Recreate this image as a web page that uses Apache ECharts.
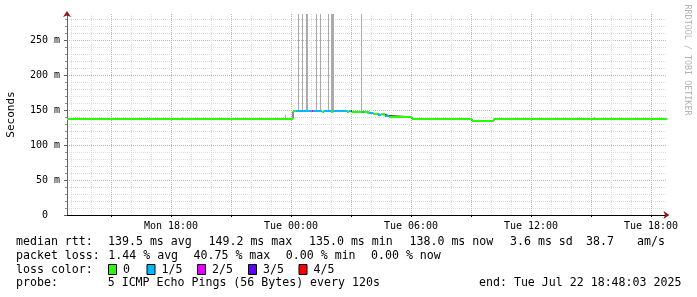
<!DOCTYPE html>
<html><head><meta charset="utf-8">
<script src="https://cdn.jsdelivr.net/npm/echarts@6/dist/echarts.min.js"></script>
<style>html,body{margin:0;padding:0;background:#fff}#c{width:697px;height:297px}</style>
</head><body><div id="c"></div>
<script>
// Time in hours since Mon Jul 21 2025 00:00; values in ms
const xStart = 12.8, xEnd = 42.8;
const yMin = 0, yMax = 288;
const xMajorTicks = [15, 18, 21, 24, 27, 30, 33, 36, 39, 42];
const xMinorTicks = [13, 14, 16, 17, 19, 20, 22, 23, 25, 26, 28, 29, 31, 32, 34, 35, 37, 38, 40, 41];
const xLabelValues = [18, 24, 30, 36, 42];
const xLabelTexts = ['Mon 18:00', 'Tue 00:00', 'Tue 06:00', 'Tue 12:00', 'Tue 18:00'];
const yMajorTicks = [0, 50, 100, 150, 200, 250];
const yLabelTexts = ['0  ', '50 m', '100 m', '150 m', '200 m', '250 m'];
const yMinorTicks = [10, 20, 30, 40, 60, 70, 80, 90, 110, 120, 130, 140, 160, 170, 180, 190, 210, 220, 230, 240, 260, 270, 280];

const lossNames = ['0', '1/5', '2/5', '3/5', '4/5'];
const lossColors = ['#26ff00', '#00b8ff', '#dd00ff', '#5e00ff', '#ff0000'];

// median rtt segments (start hour, end hour, value ms, loss index)
const medStart = [12.8, 24.10, 24.25, 25.05, 25.12, 25.55, 25.65, 26.00, 26.08, 26.80, 26.88, 27.00, 27.05, 27.55, 27.65, 27.90, 28.10, 28.35, 28.50, 28.70, 28.90, 30.05, 33.05, 34.15];
const medEnd   = [24.10, 24.25, 25.05, 25.12, 25.55, 25.65, 26.00, 26.08, 26.80, 26.88, 27.00, 27.05, 27.55, 27.65, 27.90, 28.10, 28.35, 28.50, 28.70, 28.90, 30.05, 33.05, 34.15, 42.8];
const medValue = [138.0, 148.3, 148.4, 148.9, 148.3, 148.0, 148.5, 148.1, 148.6, 147.9, 148.3, 148.8, 147.9, 147.4, 147.2, 145.9, 145.0, 143.6, 144.2, 142.4, 140.7, 137.8, 134.9, 138.0];
const medLoss  = [0, 0, 1, 2, 1, 0, 1, 0, 1, 0, 1, 3, 0, 1, 0, 1, 0, 1, 0, 1, 0, 0, 0, 0];

// smoke (ping spread) ranges
const smokeStart = [13.40, 16.90, 18.55, 23.70, 24.35, 24.55, 24.75, 25.25, 25.45, 25.85, 26.00, 27.50, 27.80, 28.35, 28.60, 38.30, 39.15, 40.00];
const smokeEnd   = [13.45, 16.95, 18.60, 23.75, 24.40, 24.60, 24.85, 25.30, 25.50, 25.90, 26.15, 27.55, 28.00, 28.50, 28.85, 38.35, 39.20, 40.05];
const smokeLow   = [138, 138, 138, 138, 148, 148, 148, 148, 148, 148, 148, 147, 144.5, 142.5, 141.5, 138, 138, 138];
const smokeHigh  = [140, 140, 140, 143.5, 320, 320, 320, 320, 320, 320, 320, 320, 147, 145, 143, 140, 140, 140];

// legend texts
const rttLabel = 'median rtt:';
const rttStats = ['139.5 ms avg', '149.2 ms max', '135.0 ms min', '138.0 ms now', '3.6 ms sd', '38.7', 'am/s'];
const lossLabel = 'packet loss:';
const lossStats = ['1.44 % avg', '40.75 % max', '0.00 % min', '0.00 % now'];
const lossColorLabel = 'loss color:';
const probeLabel = 'probe:';
const probeText = '5 ICMP Echo Pings (56 Bytes) every 120s';
const endText = 'end: Tue Jul 22 18:48:03 2025';

const MONO = '"DejaVu Sans Mono", monospace';
const LFONT = '11.6px ' + MONO;

const medData = medStart.map((t, i) => [t, medEnd[i], medValue[i], medLoss[i]]);
const smokeData = smokeStart.map((t, i) => [t, smokeEnd[i], smokeLow[i], smokeHigh[i]]);
const stepData = medStart.map((t, i) => [t, medValue[i]]).concat([[xEnd, medValue[medValue.length - 1]]]);

const rttX = [108, 208.5, 309, 409.5, 510, 586, 637];
const lossX = [108.3, 193.5, 285.8, 371];
const boxX = [108.5, 147, 197.5, 248.5, 299];

const graphic = [];
function txt(x, y, s, extra) {
  graphic.push(Object.assign({ type: 'text', x: x, y: y, silent: true,
    style: { text: s, font: LFONT, fill: '#000', align: 'left', verticalAlign: 'middle', textAlign: 'left', textVerticalAlign: 'middle' } }, extra || {}));
}
txt(16, 241.5, rttLabel);
rttStats.forEach((s, i) => txt(rttX[i], 241.5, s));
txt(16, 255.5, lossLabel);
lossStats.forEach((s, i) => txt(lossX[i], 255.5, s));
txt(16, 269.5, lossColorLabel);
lossNames.forEach((n, i) => {
  graphic.push({ type: 'rect', silent: true, shape: { x: boxX[i], y: 264.5, width: 8, height: 10 },
    style: { fill: lossColors[i], stroke: '#000', lineWidth: 1 } });
  txt(boxX[i] + 14.5, 269.5, n);
});
txt(16, 283, probeLabel);
txt(107.7, 283, probeText);
txt(479, 283, endText);
graphic.push({ type: 'text', x: 11, y: 114.5, rotation: Math.PI / 2, silent: true,
  style: { text: 'Seconds', font: '11px ' + MONO, fill: '#000', align: 'center', verticalAlign: 'middle', textAlign: 'center', textVerticalAlign: 'middle' } });
graphic.push({ type: 'text', x: 687, y: 60, rotation: -Math.PI / 2, silent: true,
  style: { text: 'RRDTOOL / TOBI OETIKER', font: '8.4px ' + MONO, fill: '#b4b4b4', align: 'center', verticalAlign: 'middle', textAlign: 'center', textVerticalAlign: 'middle' } });

const chart = echarts.init(document.getElementById('c'), null, { renderer: 'canvas' });
chart.setOption({
  animation: false,
  backgroundColor: '#fff',
  grid: { left: 67, right: 30, top: 14, bottom: 82, containLabel: false },
  xAxis: [
    { type: 'value', min: xStart, max: xEnd, position: 'bottom',
      axisLine: { show: true, onZero: false, lineStyle: { color: '#000', width: 1 } },
      axisTick: { show: true, customValues: xMajorTicks, length: 2, lineStyle: { color: '#000' } },
      axisLabel: { show: true, customValues: xLabelValues, formatter: v => { const k = xLabelValues.indexOf(v); return k >= 0 ? xLabelTexts[k] : ''; },
        color: '#000', fontFamily: MONO, fontSize: 10, margin: 6 },
      splitLine: { show: true, lineStyle: { color: '#e8a0a0', type: [1, 1], width: 1 } } },
    { type: 'value', min: xStart, max: xEnd, position: 'bottom',
      axisLine: { show: true, onZero: false, symbol: ['none', 'arrow'], symbolSize: [6, 6], symbolOffset: [0, 2.5], lineStyle: { color: '#8b1a1a', width: 0 } },
      axisTick: { show: false, customValues: xMinorTicks },
      axisLabel: { show: false },
      splitLine: { show: true, lineStyle: { color: '#dcdcdc', type: [1, 1], width: 1 } } }
  ],
  yAxis: [
    { type: 'value', min: yMin, max: yMax, position: 'left',
      axisLine: { show: true, onZero: false, lineStyle: { color: '#606060', width: 1 } },
      axisTick: { show: true, customValues: yMajorTicks, length: 3, lineStyle: { color: '#606060' } },
      axisLabel: { show: true, customValues: yMajorTicks, formatter: v => { const k = yMajorTicks.indexOf(v); return k >= 0 ? yLabelTexts[k] : ''; },
        color: '#000', fontFamily: MONO, fontSize: 10, margin: 7 },
      splitLine: { show: true, lineStyle: { color: '#e8a0a0', type: [1, 1], width: 1 } } },
    { type: 'value', min: yMin, max: yMax, position: 'left',
      axisLine: { show: true, onZero: false, symbol: ['none', 'arrow'], symbolSize: [6, 6], symbolOffset: [0, 3], lineStyle: { color: '#8b1a1a', width: 0 } },
      axisTick: { show: true, customValues: yMinorTicks, length: 2, lineStyle: { color: '#909090' } },
      axisLabel: { show: false },
      splitLine: { show: true, lineStyle: { color: '#dcdcdc', type: [1, 1], width: 1 } } }
  ],
  graphic: graphic,
  series: [
    { type: 'custom', name: 'smoke', xAxisIndex: 0, yAxisIndex: 0, z: 2, silent: true,
      encode: { x: [0, 1], y: [2, 3] }, data: smokeData,
      renderItem: function (params, api) {
        const p0 = api.coord([api.value(0), api.value(3)]);
        const p1 = api.coord([api.value(1), api.value(2)]);
        const cs = params.coordSys;
        const top = Math.max(p0[1], cs.y);
        return { type: 'rect', shape: { x: Math.round(p0[0]), y: top, width: Math.max(1, Math.round(p1[0]) - Math.round(p0[0])), height: p1[1] - top },
          style: { fill: '#aaaaaa' } };
      } },
    { type: 'line', name: 'median', xAxisIndex: 0, yAxisIndex: 0, z: 3, silent: true,
      data: stepData, step: 'end', showSymbol: false, symbol: 'none',
      lineStyle: { color: '#202020', width: 1 } },
    { type: 'custom', name: 'loss', xAxisIndex: 0, yAxisIndex: 0, z: 4, silent: true,
      encode: { x: [0, 1], y: 2 }, data: medData,
      renderItem: function (params, api) {
        const p0 = api.coord([api.value(0), api.value(2)]);
        const p1 = api.coord([api.value(1), api.value(2)]);
        const y = Math.round(p0[1]);
        const x0 = Math.round(p0[0]), x1 = Math.round(p1[0]);
        return { type: 'rect', shape: { x: x0, y: y - 1, width: x1 - x0, height: 2 },
          style: { fill: lossColors[api.value(3)] } };
      } }
  ]
});
</script></body></html>
